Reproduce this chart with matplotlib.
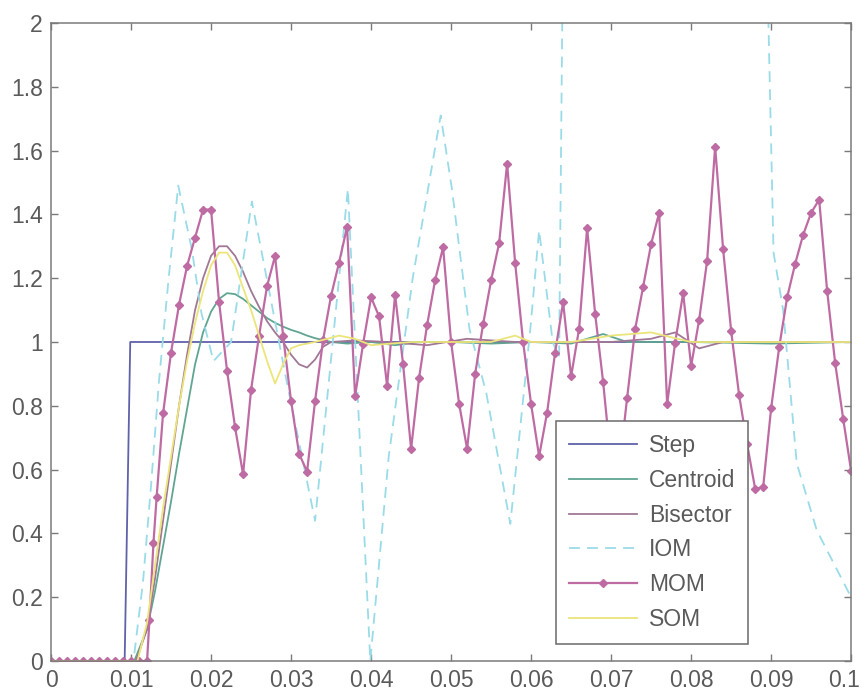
import numpy as np
import matplotlib.pyplot as plt
import matplotlib.transforms as mtransforms

plt.rcParams['font.family'] = ['Liberation Sans', 'DejaVu Sans']

# reference step input
step_t = [0, 0.0092, 0.0099, 0.1]
step_y = [0, 0, 1, 1]

# centroid defuzzification response
cen_t = [0, 0.0104, 0.012, 0.013, 0.014, 0.015, 0.016, 0.017, 0.018, 0.019, 0.020,
         0.021, 0.022, 0.023, 0.024, 0.025, 0.026, 0.027, 0.028, 0.029, 0.030, 0.031,
         0.032, 0.033, 0.034, 0.035, 0.037, 0.040, 0.043, 0.046, 0.050, 0.055, 0.060,
         0.065, 0.069, 0.072, 0.080, 0.090, 0.100]
cen_y = [0, 0, 0.10, 0.22, 0.36, 0.50, 0.65, 0.79, 0.93, 1.03, 1.095,
         1.135, 1.153, 1.15, 1.135, 1.115, 1.095, 1.075, 1.06, 1.048, 1.038, 1.03,
         1.02, 1.012, 1.006, 1.0, 0.995, 1.0, 0.99, 1.0, 1.0, 0.995, 1.0,
         0.995, 1.025, 1.0, 1.0, 0.995, 1.0]

# bisector defuzzification response
bis_t = [0, 0.0106, 0.012, 0.013, 0.014, 0.015, 0.016, 0.017, 0.018, 0.019, 0.020,
         0.021, 0.022, 0.023, 0.024, 0.025, 0.026, 0.027, 0.028, 0.029, 0.030, 0.031,
         0.032, 0.033, 0.034, 0.035, 0.038, 0.042, 0.047, 0.052, 0.058, 0.064, 0.070,
         0.075, 0.078, 0.081, 0.084, 0.090, 0.100]
bis_y = [0, 0, 0.10, 0.26, 0.44, 0.62, 0.80, 0.96, 1.10, 1.20, 1.27,
         1.30, 1.30, 1.27, 1.22, 1.16, 1.11, 1.065, 1.03, 1.0, 0.96, 0.93,
         0.92, 0.945, 0.985, 1.0, 1.005, 1.0, 0.99, 1.01, 1.0, 1.0, 1.0,
         1.01, 1.03, 0.98, 1.0, 1.0, 1.0]

# IOM response (goes off the top between 0.065 and 0.09)
iom_t = [0, 0.0103, 0.0115, 0.0125, 0.0135, 0.0147, 0.0159, 0.0176, 0.0188, 0.0203,
         0.0225, 0.0251, 0.0295, 0.0330, 0.0371, 0.0399, 0.0422, 0.0452, 0.0487,
         0.0501, 0.0523, 0.0544, 0.0574, 0.0599, 0.0610, 0.0627, 0.0635, 0.0650,
         0.0870, 0.0903, 0.0915, 0.0932, 0.0957, 0.1000]
iom_y = [0, 0, 0.25, 0.55, 0.88, 1.20, 1.49, 1.29, 1.09, 0.94,
         1.0, 1.44, 0.87, 0.44, 1.48, 0.0, 0.64, 1.20, 1.71,
         1.48, 1.04, 0.84, 0.43, 1.04, 1.35, 1.0, 0.95, 5.0,
         5.0, 1.28, 1.10, 0.62, 0.41, 0.20]

# mean of maximum response (sampled output, drawn with markers)
mom_t = [0.000, 0.001, 0.002, 0.003, 0.004, 0.005, 0.006, 0.007, 0.008, 0.009,
         0.010, 0.011, 0.012, 0.0123, 0.0128, 0.0132, 0.014, 0.015, 0.016, 0.017,
         0.018, 0.019, 0.020, 0.021, 0.022, 0.023, 0.024, 0.025, 0.026, 0.027,
         0.028, 0.029, 0.030, 0.031, 0.032, 0.033, 0.034, 0.035, 0.036, 0.037,
         0.038, 0.039, 0.040, 0.041, 0.042, 0.043, 0.044, 0.045, 0.046, 0.047,
         0.048, 0.049, 0.050, 0.051, 0.052, 0.053, 0.054, 0.055, 0.056, 0.057,
         0.058, 0.059, 0.060, 0.061, 0.062, 0.063, 0.064, 0.065, 0.066, 0.067,
         0.068, 0.069, 0.070, 0.071, 0.072, 0.073, 0.074, 0.075, 0.076, 0.077,
         0.078, 0.079, 0.080, 0.081, 0.082, 0.083, 0.084, 0.085, 0.086, 0.087,
         0.088, 0.089, 0.090, 0.091, 0.092, 0.093, 0.094, 0.095, 0.096, 0.097,
         0.098, 0.099, 0.100]
mom_y = [0, 0, 0, 0, 0, 0, 0, 0, 0, 0,
         0, 0, 0, 0.13, 0.37, 0.515, 0.776, 0.967, 1.117, 1.238,
         1.327, 1.415, 1.415, 1.126, 0.91, 0.733, 0.585, 0.85, 1.02, 1.175,
         1.27, 1.02, 0.815, 0.65, 0.594, 0.815, 1.006, 1.145, 1.249, 1.361,
         0.83, 0.994, 1.14, 1.08, 0.863, 1.148, 0.93, 0.665, 0.888, 1.053,
         1.193, 1.297, 1.0, 0.807, 0.665, 0.899, 1.056, 1.193, 1.309, 1.559,
         1.249, 1.0, 0.805, 0.642, 0.779, 0.967, 1.124, 0.892, 1.042, 1.357,
         1.089, 0.875, 0.62, 0.60, 0.825, 1.04, 1.173, 1.307, 1.405, 0.805,
         0.998, 1.153, 0.925, 1.069, 1.255, 1.612, 1.29, 1.035, 0.833, 0.68,
         0.54, 0.545, 0.793, 0.983, 1.14, 1.245, 1.336, 1.405, 1.446, 1.16,
         0.934, 0.76, 0.595]

# smallest of maximum response
som_t = [0, 0.0108, 0.012, 0.013, 0.014, 0.015, 0.016, 0.017, 0.018, 0.019, 0.020,
         0.021, 0.022, 0.023, 0.024, 0.025, 0.026, 0.027, 0.028, 0.029, 0.030, 0.031,
         0.033, 0.036, 0.038, 0.040, 0.045, 0.050, 0.055, 0.058, 0.060, 0.065, 0.070,
         0.075, 0.080, 0.085, 0.090, 0.095, 0.100]
som_y = [0, 0, 0.12, 0.30, 0.48, 0.64, 0.80, 0.94, 1.06, 1.16, 1.24,
         1.28, 1.28, 1.24, 1.17, 1.10, 1.02, 0.94, 0.87, 0.93, 0.98, 0.99,
         1.0, 1.02, 1.01, 0.99, 1.0, 1.0, 1.0, 1.02, 1.0, 1.0, 1.02,
         1.03, 1.0, 1.0, 1.0, 1.0, 1.0]

xticks = [0, 0.01, 0.02, 0.03, 0.04, 0.05, 0.06, 0.07, 0.08, 0.09, 0.1]
xlabels = ['0', '0.01', '0.02', '0.03', '0.04', '0.05', '0.06', '0.07', '0.08', '0.09', '0.1']
yticks = [0, 0.2, 0.4, 0.6, 0.8, 1.0, 1.2, 1.4, 1.6, 1.8, 2.0]
ylabels = ['0', '0.2', '0.4', '0.6', '0.8', '1', '1.2', '1.4', '1.6', '1.8', '2']

fig = plt.figure(figsize=(8.65, 6.93), dpi=100)
ax = fig.add_axes([0.059, 0.046, 0.925, 0.921])

ax.plot(step_t, step_y, color='#5f62a8', lw=1.3, label='Step')
ax.plot(cen_t, cen_y, color='#5fa592', lw=1.3, label='Centroid')
ax.plot(bis_t, bis_y, color='#a07896', lw=1.3, label='Bisector')
ax.plot(iom_t, iom_y, color='#9adbe8', lw=1.3, ls=(0, (6, 4)), label='IOM')
ax.plot(mom_t, mom_y, color='#bf6ba3', lw=1.6, marker='D', ms=4,
        mfc='#bf6ba3', mec='#bf6ba3', label='MOM')
ax.plot(som_t, som_y, color='#ebe57a', lw=1.3, label='SOM')

ax.set_xlim(0, 0.1)
ax.set_ylim(0, 2)
ax.set_xticks(xticks)
ax.set_xticklabels(xlabels)
ax.set_yticks(yticks)
ax.set_yticklabels(ylabels)
ax.tick_params(direction='in', length=5, width=1, top=True, right=True,
               colors='#7a7a7a', labelcolor='#5a5a5a', labelsize=16.5, pad=6)
for s in ax.spines.values():
    s.set_color('#7a7a7a')
    s.set_linewidth(1.1)

# keep the last x label inside the figure
last = ax.get_xticklabels()[-1]
last.set_transform(last.get_transform() +
                   mtransforms.ScaledTranslation(-7 / 100, 0, fig.dpi_scale_trans))

leg = ax.legend(loc='upper left', bbox_to_anchor=(0.631, 0.376), fontsize=16.5,
                frameon=True, fancybox=False, framealpha=1, edgecolor='#6a6a6a',
                handlelength=3.0, handletextpad=0.5, labelspacing=0.52,
                borderpad=0.55, borderaxespad=0)
leg.get_frame().set_linewidth(1.1)
for txt in leg.get_texts():
    txt.set_color('#5a5a5a')

fig.savefig('out.png', dpi=100)
